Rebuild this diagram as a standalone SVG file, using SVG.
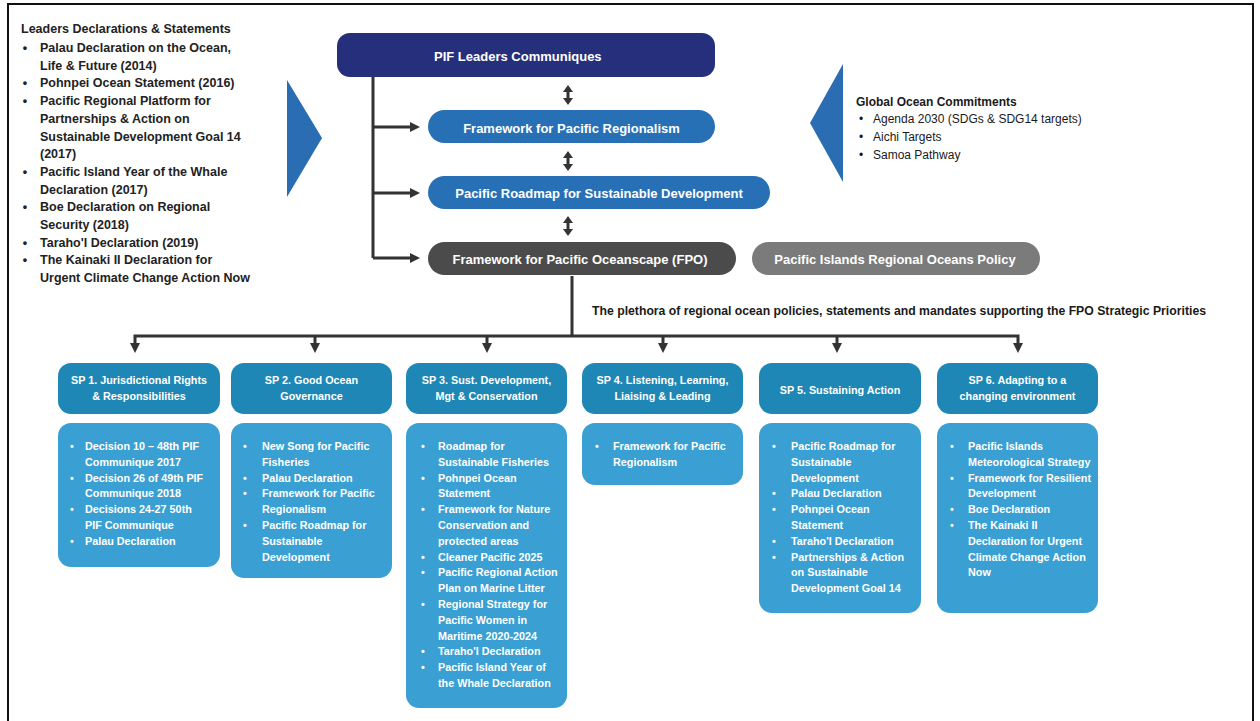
<svg xmlns="http://www.w3.org/2000/svg" width="1260" height="721" viewBox="0 0 1260 721">
<defs>
<style>
.t{font-family:"Liberation Sans",Arial,sans-serif;font-weight:bold}
.lt{font-size:12.5px;fill:#222}
.gt{font-size:12px;fill:#1a1a1a}
.gi{font-size:12px;fill:#1a1a1a;font-weight:normal}
.bl{font-size:13px;fill:#fff;text-anchor:middle}
.sh{font-size:10.8px;fill:#fff;text-anchor:middle}
.sb{font-size:10.8px;fill:#fff}
.bu{text-anchor:middle}
.hd{fill:#1f87b5}
.bd{fill:#3a9fd2}
.cn{fill:none;stroke:#333;stroke-width:3}
.tri{fill:#2a6db3}
</style>
<marker id="ah" viewBox="0 0 10 10" refX="2" refY="5" markerWidth="10" markerHeight="10" markerUnits="userSpaceOnUse" orient="auto-start-reverse"><path d="M0,0 L10,5 L0,10 z" fill="#333"/></marker>
<marker id="dh" viewBox="0 0 7 10" refX="2" refY="5" markerWidth="7" markerHeight="10" markerUnits="userSpaceOnUse" orient="auto-start-reverse"><path d="M0,0 L7,5 L0,10 z" fill="#333"/></marker>
</defs>
<rect x="0" y="0" width="1260" height="721" fill="#fff"/>
<rect x="8" y="4" width="1245" height="730" fill="none" stroke="#111" stroke-width="2"/>

<g id="leaders-declarations" class="t lt">
<text x="21" y="33">Leaders Declarations &amp; Statements</text>
<text x="25" y="52" class="bu">•</text><text x="40" y="52">Palau Declaration on the Ocean,</text>
<text x="40" y="69.7">Life &amp; Future (2014)</text>
<text x="25" y="87.4" class="bu">•</text><text x="40" y="87.4">Pohnpei Ocean Statement (2016)</text>
<text x="25" y="105.1" class="bu">•</text><text x="40" y="105.1">Pacific Regional Platform for</text>
<text x="40" y="122.8">Partnerships &amp; Action on</text>
<text x="40" y="140.5">Sustainable Development Goal 14</text>
<text x="40" y="158.2">(2017)</text>
<text x="25" y="175.9" class="bu">•</text><text x="40" y="175.9">Pacific Island Year of the Whale</text>
<text x="40" y="193.6">Declaration (2017)</text>
<text x="25" y="211.3" class="bu">•</text><text x="40" y="211.3">Boe Declaration on Regional</text>
<text x="40" y="229">Security (2018)</text>
<text x="25" y="246.7" class="bu">•</text><text x="40" y="246.7">Taraho'I Declaration (2019)</text>
<text x="25" y="264.4" class="bu">•</text><text x="40" y="264.4">The Kainaki II Declaration for</text>
<text x="40" y="282.1">Urgent Climate Change Action Now</text>
</g>
<g id="left-pointer"><polygon class="tri" points="287,80 287,197 322,138"/></g>
<g id="right-pointer"><polygon class="tri" points="843,64 843,182 810,123"/></g>

<g id="global-commitments" class="t">
<text x="856" y="106" class="gt">Global Ocean Commitments</text>
<text x="861" y="123" class="gi bu">•</text><text x="873" y="123" class="gi">Agenda 2030 (SDGs &amp; SDG14 targets)</text>
<text x="861" y="141" class="gi bu">•</text><text x="873" y="141" class="gi">Aichi Targets</text>
<text x="861" y="159" class="gi bu">•</text><text x="873" y="159" class="gi">Samoa Pathway</text>
</g>

<g id="pif-communiques"><rect x="337" y="33" width="378" height="44" rx="13" fill="#252f7c"/><text x="434" y="60.5" class="t bl" style="text-anchor:start">PIF Leaders Communiques</text></g>
<g id="fpr"><rect x="428" y="110" width="287" height="33" rx="16.5" fill="#2770b6"/><text x="571.5" y="132.5" class="t bl">Framework for Pacific Regionalism</text></g>
<g id="roadmap"><rect x="428" y="176" width="342" height="33" rx="16.5" fill="#2770b6"/><text x="599" y="197.5" class="t bl">Pacific Roadmap for Sustainable Development</text></g>
<g id="fpo"><rect x="428" y="242" width="308" height="33" rx="16.5" fill="#4b4b4b"/><text x="580" y="263.5" class="t bl">Framework for Pacific Oceanscape (FPO)</text></g>
<g id="piropolicy"><rect x="752" y="242" width="288" height="33" rx="16.5" fill="#7b7b7b"/><text x="895" y="264" class="t bl">Pacific Islands Regional Oceans Policy</text></g>

<g id="plethora-label"><text x="592" y="315" class="t" style="font-size:12px;fill:#1a1a1a" textLength="614" lengthAdjust="spacingAndGlyphs">The plethora of regional ocean policies, statements and mandates supporting the FPO Strategic Priorities</text></g>

<g id="connectors" class="cn">
<path d="M373,77 V258"/>
<path d="M373,127 H412" marker-end="url(#ah)"/>
<path d="M373,193 H412" marker-end="url(#ah)"/>
<path d="M373,258 H412" marker-end="url(#ah)"/>
<path d="M568,90 V100" marker-start="url(#dh)" marker-end="url(#dh)"/>
<path d="M568,156 V166" marker-start="url(#dh)" marker-end="url(#dh)"/>
<path d="M568,221 V231" marker-start="url(#dh)" marker-end="url(#dh)"/>
<path d="M572,276 V336"/>
<path d="M135,345 V336 H1018 V345" marker-start="url(#ah)" marker-end="url(#ah)"/>
<path d="M315,336 V345" marker-end="url(#ah)"/>
<path d="M487,336 V345" marker-end="url(#ah)"/>
<path d="M663,336 V345" marker-end="url(#ah)"/>
<path d="M837,336 V345" marker-end="url(#ah)"/>
</g>

<g id="sp1" class="t">
<rect class="hd" x="58" y="363" width="162" height="51" rx="13"/>
<text x="139" y="384" class="sh">SP 1. Jurisdictional Rights</text>
<text x="139" y="400" class="sh">&amp; Responsibilities</text>
<rect class="bd" x="58" y="423" width="162" height="144" rx="13"/>
<g class="sb">
<text x="72" y="450" class="bu">•</text><text x="85" y="450">Decision 10 – 48th PIF</text>
<text x="85" y="465.8">Communique 2017</text>
<text x="72" y="481.6" class="bu">•</text><text x="85" y="481.6">Decision 26 of 49th PIF</text>
<text x="85" y="497.4">Communique 2018</text>
<text x="72" y="513.2" class="bu">•</text><text x="85" y="513.2">Decisions 24-27 50th</text>
<text x="85" y="529">PIF Communique</text>
<text x="72" y="544.8" class="bu">•</text><text x="85" y="544.8">Palau Declaration</text>
</g>
</g>

<g id="sp2" class="t">
<rect class="hd" x="231" y="363" width="161" height="51" rx="13"/>
<text x="311.5" y="384" class="sh">SP 2. Good Ocean</text>
<text x="311.5" y="400" class="sh">Governance</text>
<rect class="bd" x="231" y="423" width="161" height="155" rx="13"/>
<g class="sb">
<text x="245" y="450" class="bu">•</text><text x="262" y="450">New Song for Pacific</text>
<text x="262" y="465.8">Fisheries</text>
<text x="245" y="481.6" class="bu">•</text><text x="262" y="481.6">Palau Declaration</text>
<text x="245" y="497.4" class="bu">•</text><text x="262" y="497.4">Framework for Pacific</text>
<text x="262" y="513.2">Regionalism</text>
<text x="245" y="529" class="bu">•</text><text x="262" y="529">Pacific Roadmap for</text>
<text x="262" y="544.8">Sustainable</text>
<text x="262" y="560.6">Development</text>
</g>
</g>

<g id="sp3" class="t">
<rect class="hd" x="406" y="363" width="161" height="51" rx="13"/>
<text x="486.5" y="384" class="sh">SP 3. Sust. Development,</text>
<text x="486.5" y="400" class="sh">Mgt &amp; Conservation</text>
<rect class="bd" x="406" y="423" width="161" height="285" rx="13"/>
<g class="sb">
<text x="423" y="450" class="bu">•</text><text x="438" y="450">Roadmap for</text>
<text x="438" y="465.8">Sustainable Fisheries</text>
<text x="423" y="481.6" class="bu">•</text><text x="438" y="481.6">Pohnpei Ocean</text>
<text x="438" y="497.4">Statement</text>
<text x="423" y="513.2" class="bu">•</text><text x="438" y="513.2">Framework for Nature</text>
<text x="438" y="529">Conservation and</text>
<text x="438" y="544.8">protected areas</text>
<text x="423" y="560.6" class="bu">•</text><text x="438" y="560.6">Cleaner Pacific 2025</text>
<text x="423" y="576.4" class="bu">•</text><text x="438" y="576.4">Pacific Regional Action</text>
<text x="438" y="592.2">Plan on Marine Litter</text>
<text x="423" y="608" class="bu">•</text><text x="438" y="608">Regional Strategy for</text>
<text x="438" y="623.8">Pacific Women in</text>
<text x="438" y="639.6">Maritime 2020-2024</text>
<text x="423" y="655.4" class="bu">•</text><text x="438" y="655.4">Taraho'I Declaration</text>
<text x="423" y="671.2" class="bu">•</text><text x="438" y="671.2">Pacific Island Year of</text>
<text x="438" y="687">the Whale Declaration</text>
</g>
</g>

<g id="sp4" class="t">
<rect class="hd" x="582" y="363" width="161" height="51" rx="13"/>
<text x="662.5" y="384" class="sh">SP 4. Listening, Learning,</text>
<text x="662.5" y="400" class="sh">Liaising &amp; Leading</text>
<rect class="bd" x="582" y="423" width="161" height="62" rx="13"/>
<g class="sb">
<text x="597" y="450" class="bu">•</text><text x="613" y="450">Framework for Pacific</text>
<text x="613" y="465.8">Regionalism</text>
</g>
</g>

<g id="sp5" class="t">
<rect class="hd" x="759" y="363" width="162" height="51" rx="13"/>
<text x="840" y="394" class="sh">SP 5. Sustaining Action</text>
<rect class="bd" x="759" y="423" width="162" height="190" rx="13"/>
<g class="sb">
<text x="774" y="450" class="bu">•</text><text x="791" y="450">Pacific Roadmap for</text>
<text x="791" y="465.8">Sustainable</text>
<text x="791" y="481.6">Development</text>
<text x="774" y="497.4" class="bu">•</text><text x="791" y="497.4">Palau Declaration</text>
<text x="774" y="513.2" class="bu">•</text><text x="791" y="513.2">Pohnpei Ocean</text>
<text x="791" y="529">Statement</text>
<text x="774" y="544.8" class="bu">•</text><text x="791" y="544.8">Taraho'I Declaration</text>
<text x="774" y="560.6" class="bu">•</text><text x="791" y="560.6">Partnerships &amp; Action</text>
<text x="791" y="576.4">on Sustainable</text>
<text x="791" y="592.2">Development Goal 14</text>
</g>
</g>

<g id="sp6" class="t">
<rect class="hd" x="937" y="363" width="161" height="51" rx="13"/>
<text x="1017.5" y="384" class="sh">SP 6. Adapting to a</text>
<text x="1017.5" y="400" class="sh">changing environment</text>
<rect class="bd" x="937" y="423" width="161" height="190" rx="13"/>
<g class="sb">
<text x="952" y="450" class="bu">•</text><text x="968" y="450">Pacific Islands</text>
<text x="968" y="465.8">Meteorological Strategy</text>
<text x="952" y="481.6" class="bu">•</text><text x="968" y="481.6">Framework for Resilient</text>
<text x="968" y="497.4">Development</text>
<text x="952" y="513.2" class="bu">•</text><text x="968" y="513.2">Boe Declaration</text>
<text x="952" y="529" class="bu">•</text><text x="968" y="529">The Kainaki II</text>
<text x="968" y="544.8">Declaration for Urgent</text>
<text x="968" y="560.6">Climate Change Action</text>
<text x="968" y="576.4">Now</text>
</g>
</g>
</svg>
